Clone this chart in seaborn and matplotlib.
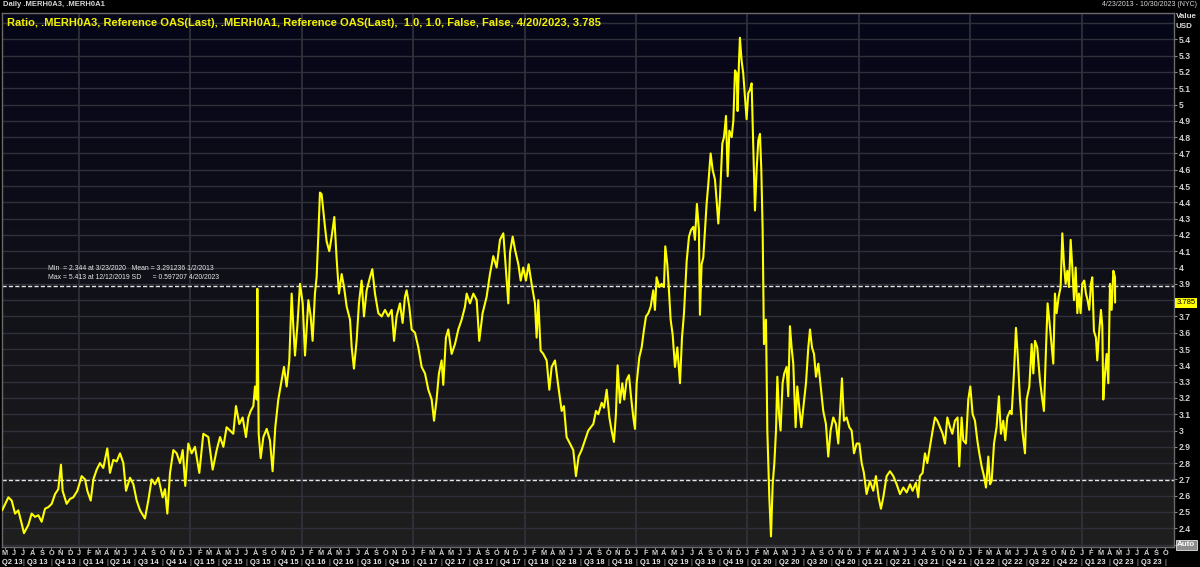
import numpy as np
import matplotlib
matplotlib.use("Agg")
import matplotlib.pyplot as plt
from matplotlib.colors import LinearSegmentedColormap
import matplotlib.transforms as mtrans
import seaborn as sns

# ---------------- data (decimal year, ratio) ----------------
years = [
    2013.310, 2013.366, 2013.396, 2013.426, 2013.455, 2013.485, 2013.506, 2013.545, 2013.575, 2013.605,
    2013.635, 2013.665, 2013.695, 2013.725, 2013.755, 2013.785, 2013.814, 2013.838, 2013.853, 2013.889,
    2013.919, 2013.949, 2013.985, 2014.024, 2014.054, 2014.075, 2014.105, 2014.129, 2014.159, 2014.188,
    2014.218, 2014.254, 2014.278, 2014.308, 2014.338, 2014.368, 2014.398, 2014.422, 2014.458, 2014.488,
    2014.518, 2014.548, 2014.592, 2014.622, 2014.652, 2014.682, 2014.712, 2014.751, 2014.772, 2014.793,
    2014.817, 2014.847, 2014.877, 2014.907, 2014.931, 2014.954, 2014.981, 2015.011, 2015.041, 2015.080,
    2015.116, 2015.161, 2015.200, 2015.236, 2015.266, 2015.296, 2015.325, 2015.355, 2015.385, 2015.409,
    2015.439, 2015.469, 2015.499, 2015.520, 2015.541, 2015.565, 2015.580, 2015.595, 2015.601, 2015.613,
    2015.631, 2015.655, 2015.685, 2015.714, 2015.738, 2015.762, 2015.789, 2015.819, 2015.840, 2015.864,
    2015.888, 2015.909, 2015.924, 2015.939, 2015.960, 2015.984,
    2016.008, 2016.029, 2016.059, 2016.080, 2016.097, 2016.118, 2016.133, 2016.148, 2016.163, 2016.178,
    2016.193, 2016.208, 2016.223, 2016.247, 2016.268, 2016.292, 2016.313, 2016.334, 2016.358, 2016.379,
    2016.403, 2016.433, 2016.448, 2016.468, 2016.492, 2016.513, 2016.537, 2016.558, 2016.582, 2016.612,
    2016.633, 2016.657, 2016.687, 2016.717, 2016.747, 2016.777, 2016.807, 2016.828, 2016.851, 2016.881,
    2016.905, 2016.926, 2016.941, 2016.965, 2016.986, 2017.016, 2017.046, 2017.076, 2017.106, 2017.136,
    2017.166, 2017.187, 2017.210, 2017.231, 2017.255, 2017.270, 2017.294, 2017.315, 2017.345, 2017.375,
    2017.405, 2017.435, 2017.465, 2017.480, 2017.510, 2017.540, 2017.570, 2017.593, 2017.623, 2017.659,
    2017.689, 2017.719, 2017.749, 2017.779, 2017.809, 2017.833, 2017.854, 2017.869, 2017.893, 2017.914,
    2017.944, 2017.965, 2017.988, 2018.012, 2018.036, 2018.063, 2018.093, 2018.108, 2018.123, 2018.144,
    2018.168, 2018.198, 2018.222, 2018.243, 2018.273, 2018.303, 2018.333, 2018.353, 2018.377, 2018.407,
    2018.437, 2018.461, 2018.485, 2018.512, 2018.542, 2018.572,
    2018.617, 2018.641, 2018.662, 2018.692, 2018.713, 2018.737, 2018.761, 2018.781, 2018.802, 2018.820,
    2018.835, 2018.856, 2018.877, 2018.895, 2018.916, 2018.937, 2018.955, 2018.976, 2018.991, 2019.006,
    2019.030, 2019.051, 2019.072, 2019.090, 2019.111, 2019.132, 2019.155, 2019.170, 2019.185, 2019.209,
    2019.230, 2019.251, 2019.263, 2019.281, 2019.296, 2019.311, 2019.329, 2019.350, 2019.371, 2019.395,
    2019.413, 2019.431, 2019.455, 2019.476, 2019.494, 2019.515, 2019.529, 2019.547, 2019.565, 2019.574,
    2019.589, 2019.604, 2019.619, 2019.634, 2019.649, 2019.670, 2019.688, 2019.709, 2019.724, 2019.739,
    2019.754, 2019.775, 2019.790, 2019.808, 2019.823, 2019.838, 2019.859, 2019.874, 2019.889, 2019.904,
    2019.912, 2019.924, 2019.933, 2019.948, 2019.963, 2019.978, 2019.993, 2020.008, 2020.023, 2020.038,
    2020.053, 2020.068, 2020.083, 2020.098, 2020.113, 2020.125, 2020.137, 2020.149, 2020.167, 2020.179,
    2020.197, 2020.212, 2020.227, 2020.242, 2020.257, 2020.269, 2020.284, 2020.298, 2020.316, 2020.331,
    2020.352, 2020.367, 2020.382, 2020.397, 2020.412, 2020.433, 2020.448, 2020.466, 2020.484, 2020.502,
    2020.526, 2020.547, 2020.562, 2020.580, 2020.598, 2020.616, 2020.637, 2020.658, 2020.681, 2020.705,
    2020.726, 2020.747, 2020.771, 2020.795, 2020.816, 2020.831, 2020.849, 2020.867, 2020.891, 2020.915,
    2020.936, 2020.957, 2020.981, 2021.005, 2021.026, 2021.046, 2021.070, 2021.100, 2021.130, 2021.154,
    2021.178, 2021.199, 2021.220, 2021.250, 2021.280, 2021.310, 2021.340,
    2021.370, 2021.400, 2021.430, 2021.460, 2021.483, 2021.513, 2021.534, 2021.549, 2021.573, 2021.594,
    2021.615, 2021.639, 2021.663, 2021.684, 2021.705, 2021.729, 2021.753, 2021.774, 2021.795, 2021.819,
    2021.840, 2021.863, 2021.887, 2021.902, 2021.923, 2021.938, 2021.962, 2021.983, 2022.001, 2022.022,
    2022.043, 2022.064, 2022.082, 2022.103, 2022.124, 2022.142, 2022.163, 2022.178, 2022.193, 2022.214,
    2022.237, 2022.258, 2022.276, 2022.297, 2022.315, 2022.333, 2022.357, 2022.372, 2022.393, 2022.411,
    2022.426, 2022.447, 2022.468, 2022.492, 2022.507, 2022.531, 2022.552, 2022.567, 2022.582, 2022.602,
    2022.626, 2022.644, 2022.662, 2022.677, 2022.695, 2022.710, 2022.725, 2022.746, 2022.761, 2022.776,
    2022.794, 2022.812, 2022.827, 2022.842, 2022.857, 2022.872, 2022.887, 2022.902, 2022.917, 2022.932,
    2022.947, 2022.962, 2022.976, 2022.991, 2023.006, 2023.024, 2023.039, 2023.054, 2023.069, 2023.084,
    2023.096, 2023.111, 2023.129, 2023.141, 2023.156, 2023.174, 2023.186, 2023.195, 2023.210, 2023.225,
    2023.240, 2023.255, 2023.270, 2023.285, 2023.300, 2023.301,
]
ratio = [
    2.51, 2.59, 2.57, 2.49, 2.51, 2.43, 2.37, 2.42, 2.49, 2.47,
    2.48, 2.44, 2.52, 2.53, 2.55, 2.61, 2.64, 2.79, 2.63, 2.55,
    2.58, 2.59, 2.63, 2.72, 2.70, 2.63, 2.57, 2.70, 2.76, 2.80,
    2.77, 2.89, 2.74, 2.82, 2.81, 2.86, 2.80, 2.63, 2.71, 2.67,
    2.57, 2.51, 2.46, 2.57, 2.70, 2.67, 2.71, 2.59, 2.64, 2.49,
    2.74, 2.88, 2.86, 2.80, 2.88, 2.66, 2.92, 2.86, 2.90, 2.74,
    2.98, 2.96, 2.76, 2.88, 2.96, 2.90, 3.02, 3.00, 2.98, 3.15,
    3.04, 3.08, 2.96, 3.08, 3.12, 3.15, 3.27, 3.19, 3.87, 2.98,
    2.83, 2.96, 3.01, 2.94, 2.75, 3.02, 3.19, 3.31, 3.39, 3.27,
    3.43, 3.84, 3.64, 3.46, 3.64, 3.90,
    3.78, 3.46, 3.80, 3.70, 3.55, 3.84, 3.94, 4.19, 4.46, 4.45,
    4.35, 4.25, 4.16, 4.10, 4.19, 4.31, 4.05, 3.84, 3.96, 3.88,
    3.76, 3.68, 3.51, 3.38, 3.55, 3.78, 3.92, 3.70, 3.86, 3.94,
    3.99, 3.84, 3.72, 3.70, 3.74, 3.70, 3.74, 3.55, 3.70, 3.78,
    3.66, 3.82, 3.86, 3.76, 3.62, 3.60, 3.51, 3.39, 3.35, 3.25,
    3.19, 3.06, 3.19, 3.35, 3.43, 3.28, 3.57, 3.62, 3.47, 3.53,
    3.62, 3.68, 3.76, 3.84, 3.78, 3.84, 3.80, 3.55, 3.72, 3.82,
    3.96, 4.07, 4.00, 4.17, 4.21, 3.98, 3.78, 4.09, 4.19, 4.11,
    4.02, 3.92, 4.00, 3.92, 4.02, 3.90, 3.78, 3.57, 3.80, 3.49,
    3.47, 3.43, 3.25, 3.39, 3.43, 3.27, 3.12, 3.15, 2.96, 2.92,
    2.88, 2.72, 2.84, 2.88, 2.94, 3.00,
    3.04, 3.12, 3.10, 3.17, 3.14, 3.25, 3.08, 3.00, 2.93, 3.10,
    3.40, 3.17, 3.29, 3.19, 3.31, 3.34, 3.21, 3.08, 3.01, 3.29,
    3.45, 3.51, 3.62, 3.70, 3.72, 3.76, 3.86, 3.74, 3.94, 3.88,
    3.90, 3.88, 4.13, 4.02, 3.86, 3.68, 3.59, 3.39, 3.51, 3.29,
    3.57, 3.72, 4.04, 4.19, 4.23, 4.25, 4.17, 4.39, 4.23, 3.71,
    4.02, 4.06, 4.23, 4.39, 4.51, 4.70, 4.60, 4.54, 4.41, 4.27,
    4.43, 4.76, 4.80, 4.93, 4.56, 4.84, 4.80, 4.90, 5.21, 5.19,
    4.96, 5.25, 5.41, 5.27, 5.19, 5.05, 4.91, 5.07, 5.09, 5.13,
    4.74, 4.35, 4.60, 4.78, 4.82, 4.60, 4.23, 3.53, 3.68, 3.00,
    2.59, 2.35, 2.67, 2.80, 3.00, 3.33, 3.10, 3.00, 3.29, 3.35,
    3.39, 3.21, 3.64, 3.51, 3.41, 3.02, 3.27, 3.14, 3.02, 3.14,
    3.29, 3.51, 3.62, 3.51, 3.47, 3.33, 3.41, 3.27, 3.12, 3.04,
    2.84, 3.00, 3.08, 3.04, 2.92, 3.10, 3.32, 3.06, 3.08, 3.02,
    3.00, 2.86, 2.92, 2.92, 2.80, 2.74, 2.61, 2.69, 2.63, 2.72,
    2.59, 2.52, 2.59, 2.72, 2.75, 2.72, 2.67,
    2.61, 2.65, 2.62, 2.67, 2.63, 2.68, 2.59, 2.72, 2.74, 2.86,
    2.80, 2.90, 3.00, 3.08, 3.06, 3.02, 2.98, 2.92, 3.08, 3.02,
    2.98, 3.06, 3.08, 2.78, 3.08, 2.94, 2.92, 3.19, 3.27, 3.10,
    3.06, 2.94, 2.86, 2.78, 2.72, 2.65, 2.84, 2.67, 2.69, 2.92,
    3.02, 3.21, 2.98, 3.06, 2.94, 3.08, 3.12, 3.10, 3.35, 3.63,
    3.47, 3.19, 3.00, 2.86, 3.19, 3.27, 3.53, 3.35, 3.55, 3.51,
    3.31, 3.21, 3.12, 3.43, 3.78, 3.68, 3.57, 3.41, 3.84, 3.72,
    3.82, 3.88, 4.21, 4.02, 3.90, 3.98, 3.88, 4.17, 4.00, 3.80,
    4.00, 3.72, 3.84, 3.72, 3.90, 3.92, 3.84, 3.80, 3.74, 3.90,
    3.94, 3.61, 3.57, 3.43, 3.59, 3.74, 3.64, 3.19, 3.35, 3.47,
    3.29, 3.90, 3.74, 3.98, 3.94, 3.785,
]

mean_val = 3.291236
sd_val = 0.597207
last_val = 3.785
month_letters = ["J", "F", "M", "A", "M", "J", "J", "A", "S", "O", "N", "D"]
header_left = "Daily .MERH0A3, .MERH0A1"
header_right = "4/23/2013 - 10/30/2023 (NYC)"
title_text = ("Ratio, .MERH0A3, Reference OAS(Last), .MERH0A1, Reference OAS(Last),  "
              "1.0, 1.0, False, False, 4/20/2023, 3.785")
stats_line1 = "Min  = 2.344 at 3/23/2020   Mean = 3.291236 1/2/2013"
stats_line2 = "Max = 5.413 at 12/12/2019 SD      = 0.597207 4/20/2023"

x_start, x_end = 2013.307, 2023.827
y_lo, y_hi = 2.287, 5.56

# ---------------- style ----------------
sns.set_theme(style="dark")
FONT = ['Liberation Sans', 'DejaVu Sans']
plt.rcParams['font.family'] = FONT

fig = plt.figure(figsize=(12, 5.67), dpi=100, facecolor='#000000')
ax = fig.add_axes([1.8 / 1200, 20.3 / 567, (1173.7 - 1.8) / 1200, (546.7 - 13.3) / 567])
ax.set_xlim(x_start, x_end)
ax.set_ylim(y_lo, y_hi)

# background gradient
grad = np.linspace(0, 1, 256).reshape(-1, 1)
cmap = LinearSegmentedColormap.from_list('bg', ['#06061a', '#101018', '#1f1f1f'])
ax.imshow(grad, extent=[x_start, x_end, y_lo, y_hi], aspect='auto', cmap=cmap,
          origin='upper', zorder=0, interpolation='bilinear')

grid_c = '#30303a'
for v in np.arange(2.3, 5.551, 0.1):
    ax.axhline(v, color=grid_c, lw=1.0, zorder=1)
for yr in range(2014, 2024):
    ax.axvline(yr, color=grid_c, lw=1.3, zorder=1)

# mean +/- SD dashed lines
for v in (mean_val + sd_val, mean_val - sd_val):
    ax.axhline(v, color='#e6e6e6', lw=1.0, ls=(0, (3.0, 1.6)), zorder=2)

sns.lineplot(x=years, y=ratio, ax=ax, color='#ffff00', lw=1.5,
             estimator=None, sort=False, zorder=3, legend=False)
ax.set_xlabel('')
ax.set_ylabel('')

for s in ax.spines.values():
    s.set_color('#6a6a6a')
    s.set_linewidth(1.0)

# y axis on the right (3.8 label hidden behind the last-value tag, 2.3 behind "Auto")
yt = np.round(np.arange(2.3, 5.41, 0.1), 1)
ax.yaxis.tick_right()
ax.set_yticks(yt)
ax.set_yticklabels(['' if (abs(t - 2.3) < 1e-6 or abs(t - 3.8) < 1e-6) else f"{t:g}" for t in yt])
ax.tick_params(axis='y', colors='#8a8a8a', labelcolor='#cfcfcf', labelsize=6.2,
               length=2.5, width=0.8, pad=1.2, left=False, right=True)
for lab in ax.get_yticklabels():
    lab.set_fontweight('bold')

# x axis months
mticks, mlabels = [], []
for yr in range(2013, 2024):
    for m in range(12):
        t = yr + m / 12
        if x_start <= t <= x_end:
            mticks.append(t)
            mlabels.append(month_letters[m])
ax.set_xticks(mticks)
ax.set_xticklabels(mlabels)
ax.tick_params(axis='x', colors='#8a8a8a', labelcolor='#cfcfcf', labelsize=5.3,
               length=2.0, width=0.8, pad=0.4, bottom=True, top=False)
for lab in ax.get_xticklabels():
    lab.set_fontweight('bold')
ax.grid(False)

# quarter labels
trans = mtrans.blended_transform_factory(ax.transData, ax.transAxes)
qy = -(563.0 - 546.7) / 533.4
for yr in range(2013, 2024):
    for q in range(4):
        q0, q1 = yr + q * 0.25, yr + (q + 1) * 0.25
        a, b = max(q0, x_start), min(q1, x_end)
        if b - a >= 0.15:
            ax.text((a + b) / 2, qy, f"Q{q + 1} {yr % 100:02d}", transform=trans,
                    ha='center', va='center', fontsize=5.4, color='#e4e4e4',
                    fontweight='bold', clip_on=False)
        if x_start < q1 <= x_end:
            ax.text(q1, qy, "|", transform=trans, ha='center', va='center',
                    fontsize=5.5, color='#bdbdbd', clip_on=False)

# header texts
fig.text(3 / 1200, 1 - 5 / 567, header_left, ha='left', va='center', fontsize=5.5,
         color='#d8d8d8', fontweight='bold')
fig.text(1197 / 1200, 1 - 5 / 567, header_right, ha='right', va='center', fontsize=5,
         color='#d8d8d8')
fig.text(1176 / 1200, 1 - 17 / 567, "Value", ha='left', va='center', fontsize=5.8,
         color='#d8d8d8', fontweight='bold')
fig.text(1176 / 1200, 1 - 26 / 567, "USD", ha='left', va='center', fontsize=5.8,
         color='#d8d8d8', fontweight='bold')

# title (legend line)
fig.text(7 / 1200, 1 - 22.5 / 567, title_text, ha='left', va='center', fontsize=8.05,
         color='#f2f200', fontweight='bold')

# stats annotation
fig.text(48 / 1200, 1 - 269 / 567, stats_line1, ha='left', va='center', fontsize=4.95,
         color='#e6e6e6')
fig.text(48 / 1200, 1 - 277.3 / 567, stats_line2, ha='left', va='center', fontsize=4.95,
         color='#e6e6e6')

# last value tag
rtrans = mtrans.blended_transform_factory(ax.transAxes, ax.transData)
ax.text(1.0025, last_val, f"{last_val:.3f}", transform=rtrans, ha='left', va='center',
        fontsize=5.5, color='#000000', clip_on=False,
        bbox=dict(boxstyle='square,pad=0.2', facecolor='#ffff00', edgecolor='none'))

# Auto button
ax.text(1.003, 2.3, "Auto", transform=rtrans, ha='left', va='center', fontsize=5.8,
        color='#ffffff', fontweight='bold', clip_on=False,
        bbox=dict(boxstyle='square,pad=0.18', facecolor='#8c8c8c', edgecolor='#d0d0d0', lw=0.7))

fig.savefig('out.png', dpi=100, facecolor=fig.get_facecolor())
